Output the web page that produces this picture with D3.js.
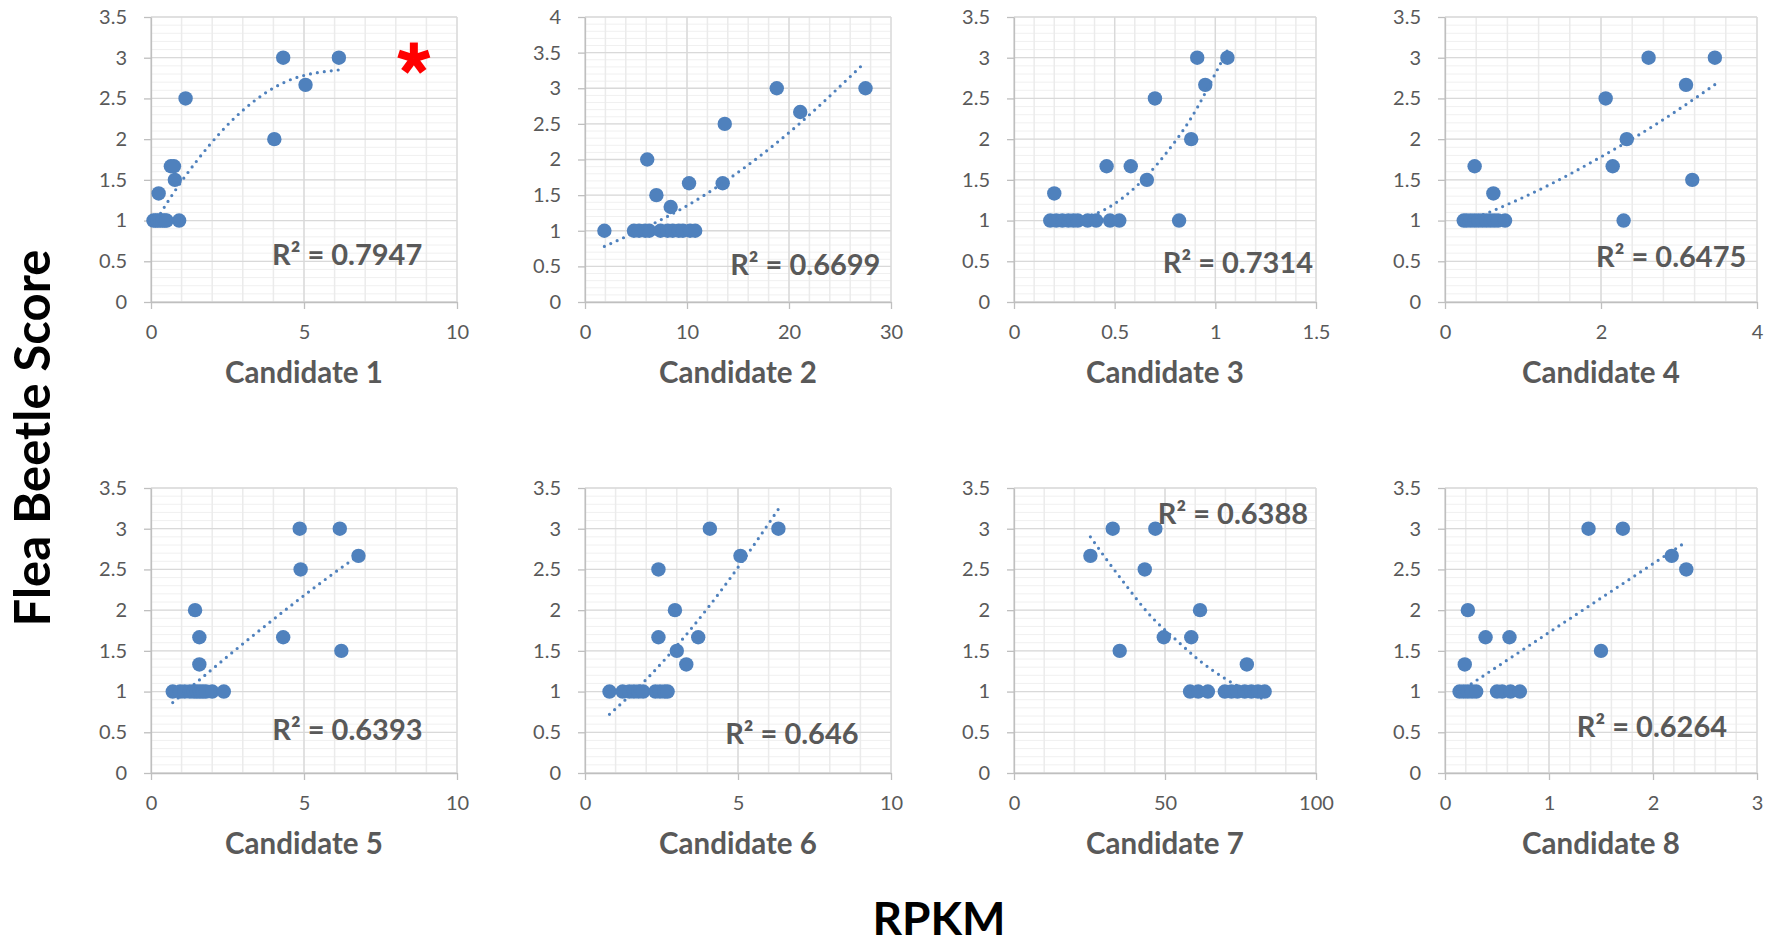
<!DOCTYPE html>
<html>
<head>
<meta charset="utf-8">
<title>Flea Beetle Score vs RPKM</title>
<script src="https://cdn.jsdelivr.net/npm/d3@7"></script>
<style>
	body {
		margin: 0;
		background: white;
	}
	svg text {
		font-family: Lato, "Open Sans", sans-serif;
	}
	.grid-major {
		stroke: #d9d9d9;
		stroke-width: 1.3px;
	}
	.grid-minor-x {
		stroke: #ebebeb;
		stroke-width: 1.5px;
	}
	.grid-minor-y {
		stroke: #f0f0f0;
		stroke-width: 1px;
	}
	.axis path, .axis line {
		stroke: #bfbfbf;
		stroke-width: 1.3px;
	}
	.axis text {
		fill: #595959;
		font-size: 20px;
	}
	.dot {
		fill: #4f81bd;
	}
	.trend {
		fill: none;
		stroke: #4f81bd;
		stroke-width: 3.2px;
		stroke-linecap: round;
		stroke-dasharray: 0 7;
	}
	.r2 {
		fill: #595959;
		font-weight: bold;
		font-size: 29px;
	}
	.cand {
		fill: #595959;
		font-weight: bold;
		font-size: 29.5px;
	}
	.title {
		fill: black;
		font-weight: bold;
	}
</style>
</head>
<body>

<svg id="chart" width="1775" height="945"></svg>

<script>

	// ---- data ----
	var names = ["Candidate 1", "Candidate 2", "Candidate 3", "Candidate 4",
		"Candidate 5", "Candidate 6", "Candidate 7", "Candidate 8"];
	var r2Text = ["R² = 0.7947", "R² = 0.6699", "R² = 0.7314", "R² = 0.6475",
		"R² = 0.6393", "R² = 0.646", "R² = 0.6388", "R² = 0.6264"];

	// x axis: max, major step, minor step
	var xMax = [10, 30, 1.5, 4, 10, 10, 100, 3];
	var xMajor = [5, 10, 0.5, 2, 5, 5, 50, 1];
	var xMinor = [1, 2, 0.1, 0.4, 1, 1, 10, 0.2];
	// y axis: max (major 0.5, minor 0.1)
	var yMax = [3.5, 4, 3.5, 3.5, 3.5, 3.5, 3.5, 3.5];

	// Candidate 1
	var c1x = [0.08, 0.15, 0.22, 0.3, 0.38, 0.45, 0.51, 0.92, 0.25, 0.78, 0.65, 0.75, 4.03, 1.13, 5.05, 4.32, 6.14];
	var c1y = [1, 1, 1, 1, 1, 1, 1, 1, 1.333, 1.5, 1.667, 1.667, 2, 2.5, 2.667, 3, 3];
	var c1tx = [0.08, 0.38, 1.51, 3.02, 4.43, 6.14];
	var c1ty = [0.94, 1.13, 1.74, 2.36, 2.71, 2.85];

	// Candidate 2
	var c2x = [1.9, 4.8, 5.3, 5.9, 6.3, 7.4, 8.1, 8.6, 9.2, 9.6, 10.3, 10.8, 8.4, 7.0, 10.2, 13.5, 6.1, 13.7, 21.1, 18.8, 27.5];
	var c2y = [1, 1, 1, 1, 1, 1, 1, 1, 1, 1, 1, 1, 1.333, 1.5, 1.667, 1.667, 2, 2.5, 2.667, 3, 3];
	var c2tx = [1.9, 11.6, 19.1, 27.5];
	var c2ty = [0.78, 1.49, 2.27, 3.37];

	// Candidate 3
	var c3x = [0.18, 0.21, 0.24, 0.27, 0.295, 0.317, 0.366, 0.408, 0.477, 0.523, 0.82, 0.2, 0.66, 0.46, 0.58, 0.88, 0.7, 0.95, 0.91, 1.06];
	var c3y = [1, 1, 1, 1, 1, 1, 1, 1, 1, 1, 1, 1.333, 1.5, 1.667, 1.667, 2, 2.5, 2.667, 3, 3];
	var c3tx = [0.18, 0.26, 0.4, 0.58, 0.75, 0.88, 1.02, 1.06];
	var c3ty = [1.03, 1.02, 1.08, 1.36, 1.81, 2.26, 2.9, 3.09];

	// Candidate 4
	var c4x = [0.24, 0.28, 0.33, 0.38, 0.43, 0.48, 0.53, 0.58, 0.63, 0.68, 0.77, 2.29, 0.62, 3.17, 0.38, 2.15, 2.33, 2.06, 3.09, 2.61, 3.46];
	var c4y = [1, 1, 1, 1, 1, 1, 1, 1, 1, 1, 1, 1, 1.333, 1.5, 1.667, 1.667, 2, 2.5, 2.667, 3, 3];
	var c4tx = [0.24, 0.56, 1.36, 1.94, 2.7, 3.46];
	var c4ty = [0.98, 1.1, 1.45, 1.75, 2.18, 2.67];

	// Candidate 5
	var c5x = [0.71, 0.95, 1.1, 1.27, 1.4, 1.5, 1.6, 1.7, 1.8, 2.0, 2.38, 1.58, 6.22, 1.58, 4.32, 1.44, 4.89, 6.78, 4.86, 6.17];
	var c5y = [1, 1, 1, 1, 1, 1, 1, 1, 1, 1, 1, 1.333, 1.5, 1.667, 1.667, 2, 2.5, 2.667, 3, 3];
	var c5tx = [0.71, 3.31, 6.44, 6.78];
	var c5ty = [0.865, 1.68, 2.58, 2.67];

	// Candidate 6
	var c6x = [0.8, 1.23, 1.45, 1.6, 1.75, 1.9, 2.3, 2.45, 2.6, 2.7, 3.31, 3.0, 2.4, 3.7, 2.94, 2.4, 5.08, 4.08, 6.32];
	var c6y = [1, 1, 1, 1, 1, 1, 1, 1, 1, 1, 1.333, 1.5, 1.667, 1.667, 2, 2.5, 2.667, 3, 3];
	var c6tx = [0.8, 2.03, 4.04, 5.37, 6.32];
	var c6ty = [0.72, 1.16, 2.04, 2.72, 3.24];

	// Candidate 7
	var c7x = [58.3, 61, 64.2, 69.8, 72, 74, 76.4, 78.6, 80.8, 83, 77.1, 35.0, 49.6, 58.7, 61.6, 43.3, 25.3, 32.7, 46.8];
	var c7y = [1, 1, 1, 1, 1, 1, 1, 1, 1, 1, 1.333, 1.5, 1.667, 1.667, 2, 2.5, 2.667, 3, 3];
	var c7tx = [25.3, 30.3, 37.2, 44.5, 54.7, 61.1, 70.3, 83];
	var c7ty = [2.9, 2.64, 2.3, 1.96, 1.6, 1.39, 1.15, 0.9];

	// Candidate 8
	var c8x = [0.14, 0.18, 0.22, 0.26, 0.3, 0.5, 0.55, 0.63, 0.72, 0.19, 1.5, 0.39, 0.62, 0.22, 2.32, 2.18, 1.38, 1.71];
	var c8y = [1, 1, 1, 1, 1, 1, 1, 1, 1, 1.333, 1.5, 1.667, 1.667, 2, 2.5, 2.667, 3, 3];
	var c8tx = [0.14, 2.32];
	var c8ty = [1.0, 2.84];

	var seriesX = [c1x, c2x, c3x, c4x, c5x, c6x, c7x, c8x],
		seriesY = [c1y, c2y, c3y, c4y, c5y, c6y, c7y, c8y],
		trendX = [c1tx, c2tx, c3tx, c4tx, c5tx, c6tx, c7tx, c8tx],
		trendY = [c1ty, c2ty, c3ty, c4ty, c5ty, c6ty, c7ty, c8ty];

	// ---- layout ----
	var colLeft = [151, 585, 1014, 1445],
		colWidth = [306, 306, 302, 312],
		rowTop = [17, 488],
		plotHeight = 285,
		dotR = 7.2;
	// R² label centre, in each panel's data units
	var r2Pos = [[6.41, 0.45], [21.6, 0.38], [1.112, 0.36], [2.9, 0.43],
		[6.42, 0.41], [6.76, 0.36], [72.5, 3.06], [1.99, 0.44]];

	var svg = d3.select("#chart");

	var steps = function(max, step) {
		return d3.range(Math.round(max / step) + 1).map(i => +(i * step).toFixed(6));
	};
	var fmt = d => String(+d.toFixed(3));

	names.forEach(function(name, i) {
		var w = colWidth[i % 4],
			left = colLeft[i % 4],
			top = rowTop[Math.floor(i / 4)];

		var x = d3.scaleLinear().domain([0, xMax[i]]).range([0, w]),
			y = d3.scaleLinear().domain([0, yMax[i]]).range([plotHeight, 0]);

		var g = svg.append("g")
			.attr("transform", "translate(" + left + "," + top + ")");

		// minor grid
		g.selectAll("line.grid-minor-y")
			.data(steps(yMax[i], 0.1)).enter().append("line")
				.attr("class", "grid-minor-y")
				.attr("x1", 0).attr("x2", w)
				.attr("y1", d => y(d)).attr("y2", d => y(d));
		g.selectAll("line.grid-minor-x")
			.data(steps(xMax[i], xMinor[i])).enter().append("line")
				.attr("class", "grid-minor-x")
				.attr("y1", 0).attr("y2", plotHeight)
				.attr("x1", d => x(d)).attr("x2", d => x(d));

		// major grid
		g.selectAll("line.grid-major-y")
			.data(steps(yMax[i], 0.5)).enter().append("line")
				.attr("class", "grid-major")
				.attr("x1", 0).attr("x2", w)
				.attr("y1", d => y(d)).attr("y2", d => y(d));
		g.selectAll("line.grid-major-x")
			.data(steps(xMax[i], xMajor[i])).enter().append("line")
				.attr("class", "grid-major")
				.attr("y1", 0).attr("y2", plotHeight)
				.attr("x1", d => x(d)).attr("x2", d => x(d));

		// axes
		g.append("g")
			.attr("class", "axis")
			.attr("transform", "translate(0," + plotHeight + ")")
			.call(d3.axisBottom(x).tickValues(steps(xMax[i], xMajor[i]))
				.tickFormat(fmt).tickSizeInner(7).tickSizeOuter(0).tickPadding(16));
		g.append("g")
			.attr("class", "axis")
			.call(d3.axisLeft(y).tickValues(steps(yMax[i], 0.5))
				.tickFormat(fmt).tickSizeInner(7).tickSizeOuter(0).tickPadding(17));
		g.selectAll(".axis text").attr("font-family", null);

		// points
		g.selectAll("circle.dot")
			.data(d3.range(seriesX[i].length)).enter().append("circle")
				.attr("class", "dot")
				.attr("cx", k => x(seriesX[i][k]))
				.attr("cy", k => y(seriesY[i][k]))
				.attr("r", dotR);

		// trendline
		var line = d3.line()
			.x(k => x(trendX[i][k]))
			.y(k => y(trendY[i][k]))
			.curve(d3.curveMonotoneX);
		g.append("path")
			.attr("class", "trend")
			.attr("d", line(d3.range(trendX[i].length)));

		// R² label
		g.append("text")
			.attr("class", "r2")
			.attr("x", x(r2Pos[i][0]))
			.attr("y", y(r2Pos[i][1]))
			.attr("text-anchor", "middle")
			.text(r2Text[i]);

		// candidate label
		g.append("text")
			.attr("class", "cand")
			.attr("x", w / 2)
			.attr("y", plotHeight + 81)
			.attr("text-anchor", "middle")
			.text(name);

		// red asterisk on candidate 1
		if (i == 0) {
			var star = g.append("g")
				.attr("transform", "translate(" + x(8.59) + "," + y(2.99) + ")");
			star.selectAll("line")
				.data([-90, -18, 54, 126, 198]).enter().append("line")
					.attr("x1", 0).attr("y1", 0)
					.attr("x2", a => 16 * Math.cos(a * Math.PI / 180))
					.attr("y2", a => 16 * Math.sin(a * Math.PI / 180))
					.attr("stroke", "#ff0000")
					.attr("stroke-width", 8);
		}
	});

	// shared axis titles
	svg.append("text")
		.attr("class", "title")
		.attr("transform", "translate(50,438) rotate(-90)")
		.attr("text-anchor", "middle")
		.style("font-size", "49px")
		.text("Flea Beetle Score");

	svg.append("text")
		.attr("class", "title")
		.attr("x", 939)
		.attr("y", 935)
		.attr("text-anchor", "middle")
		.style("font-size", "46px")
		.text("RPKM");

</script>
</body>
</html>
